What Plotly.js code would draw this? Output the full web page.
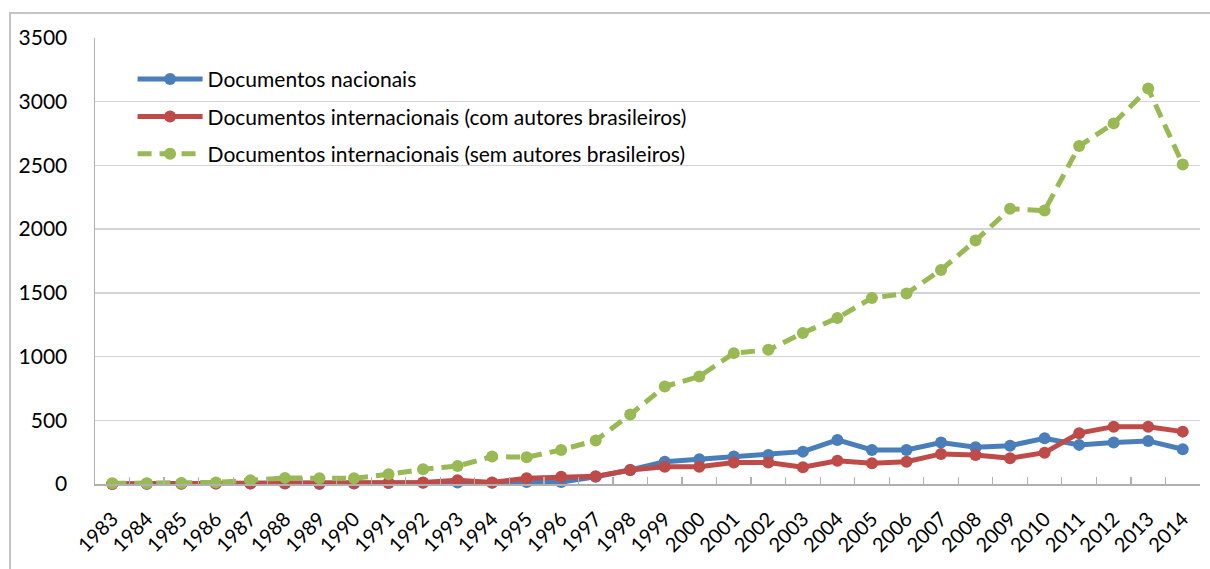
<!DOCTYPE html>
<html>
<head>
<meta charset="utf-8">
<script src="https://cdn.plot.ly/plotly-3.0.1.min.js"></script>
<style>
  html, body { margin: 0; padding: 0; background: #ffffff; }
  #wrap { position: relative; width: 1210px; height: 569px; overflow: hidden; }
  #chart { position: absolute; left: 0; top: 0; width: 1210px; height: 569px; }
  #frame { position: absolute; left: 9px; top: 12px; width: 1300px; height: 700px;
           border-top: 2px solid #c4c4c4; border-left: 2px solid #c4c4c4; pointer-events: none; }
</style>
</head>
<body>
<div id="wrap">
  <div id="chart"></div>
  <div id="frame"></div>
</div>
<script>
// Years on the category axis
const years = ["1983","1984","1985","1986","1987","1988","1989","1990","1991","1992",
               "1993","1994","1995","1996","1997","1998","1999","2000","2001","2002",
               "2003","2004","2005","2006","2007","2008","2009","2010","2011","2012",
               "2013","2014"];

// Documentos nacionais
const nacionais = [2, 2, 3, 3, 3, 3, 0, 3, 8, 10,
                   12, 10, 15, 15, 57, 110, 175, 194, 215, 228,
                   254, 346, 267, 267, 325, 289, 301, 359, 307, 325,
                   338, 273];

// Documentos internacionais (com autores brasileiros)
const comAutores = [0, 2, 2, 3, 3, 5, 5, 5, 10, 12,
                    30, 12, 45, 57, 60, 110, 136, 136, 168, 168,
                    131, 183, 163, 175, 236, 228, 202, 246, 399, 450,
                    450, 411];

// Documentos internacionais (sem autores brasileiros)
const semAutores = [5, 5, 8, 12, 30, 48, 45, 45, 76, 115,
                    141, 215, 210, 267, 342, 545, 765, 844, 1027, 1053,
                    1185, 1303, 1460, 1495, 1680, 1910, 2160, 2146, 2652, 2830,
                    3103, 2508];

const seriesNames = [
  "Documentos nacionais",
  "Documentos internacionais (com autores brasileiros)",
  "Documentos internacionais (sem autores brasileiros)"
];

const FONT = "Lato, 'Liberation Sans', Arial, sans-serif";

function lineTrace(values, name, color, dash, group) {
  return {
    type: "scatter",
    mode: "lines+markers",
    x: years,
    y: values,
    name: name,
    legendgroup: group,
    line: { color: color, width: 5, dash: dash },
    marker: { color: color, size: 12, symbol: "circle" },
    cliponaxis: false
  };
}

const data = [
  lineTrace(nacionais, seriesNames[0], "#4a7ebb", "solid", "a"),
  lineTrace(comAutores, seriesNames[1], "#be4b48", "solid", "b"),
  lineTrace(semAutores, seriesNames[2], "#98b954", "14px,8px", "c")
];

const layout = {
  width: 1210,
  height: 569,
  margin: { l: 95, r: 10, t: 38, b: 85 },
  paper_bgcolor: "#ffffff",
  plot_bgcolor: "#ffffff",
  font: { family: FONT, size: 21, color: "#000000" },
  showlegend: true,
  legend: {
    x: 0.034, y: 0.953, xanchor: "left", yanchor: "top",
    bgcolor: "rgba(0,0,0,0)",
    font: { family: FONT, size: 21, color: "#000000" },
    traceorder: "grouped",
    tracegroupgap: 7,
    itemwidth: 65
  },
  xaxis: {
    type: "category",
    range: [-0.5, years.length - 0.5],
    showgrid: false,
    showline: true,
    linecolor: "#b0b0b0",
    linewidth: 1.5,
    ticks: "inside",
    tickson: "boundaries",
    ticklen: 7,
    tickcolor: "#b0b0b0",
    tickwidth: 1.2,
    tickangle: -45,
    ticklabelstandoff: 14,
    tickfont: { family: FONT, size: 20, color: "#000000" },
    zeroline: false,
    fixedrange: true
  },
  yaxis: {
    range: [0, 3500],
    dtick: 500,
    tick0: 0,
    showgrid: true,
    gridcolor: "#d4d4d4",
    gridwidth: 1.5,
    showline: true,
    linecolor: "#b0b0b0",
    linewidth: 1.5,
    ticks: "",
    ticklabelstandoff: 22,
    tickfont: { family: FONT, size: 21, color: "#000000" },
    zeroline: false,
    fixedrange: true
  }
};

Plotly.newPlot("chart", data, layout, { staticPlot: true, displayModeBar: false });
</script>
</body>
</html>
